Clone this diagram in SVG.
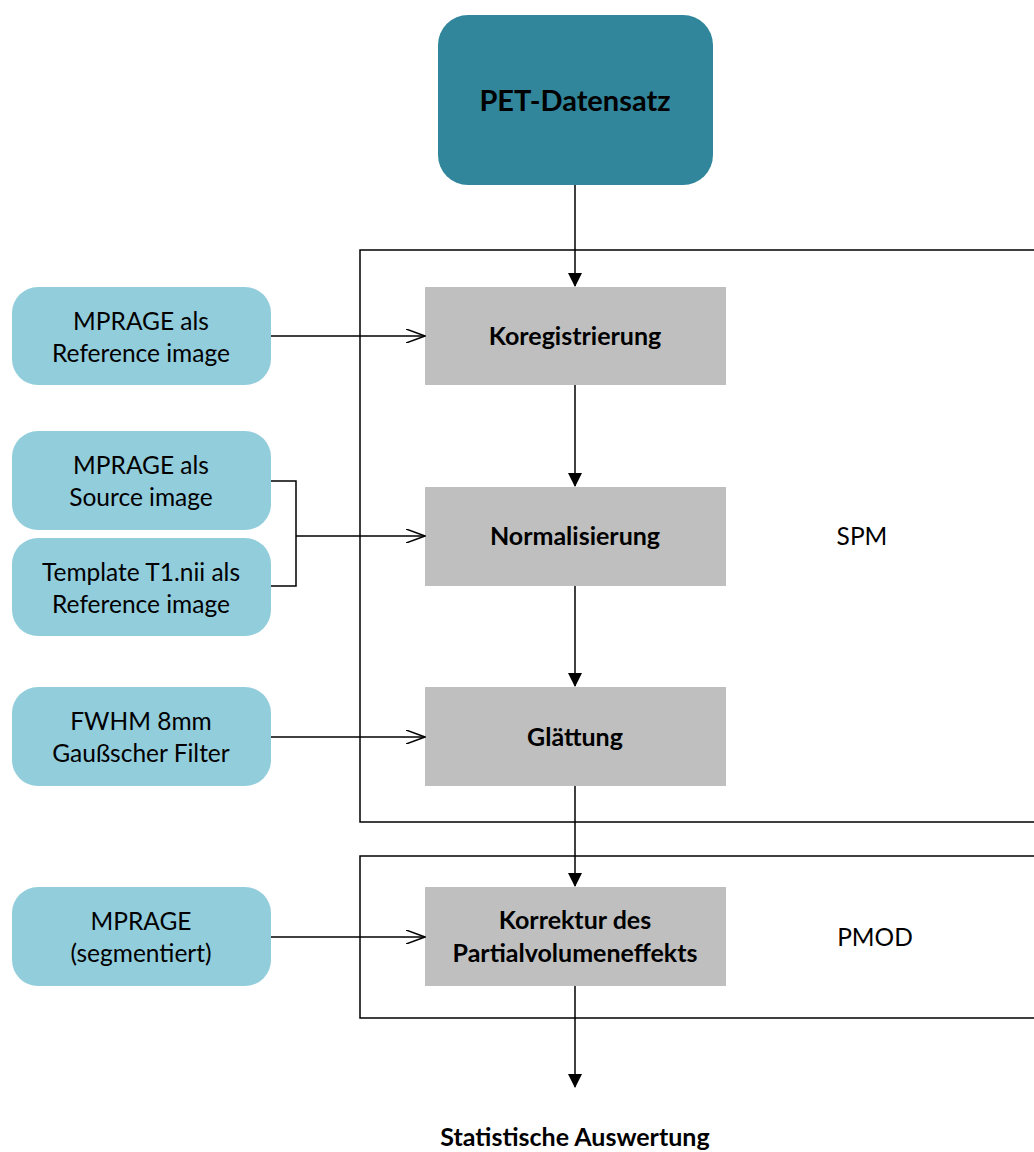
<svg xmlns="http://www.w3.org/2000/svg" width="1034" height="1152" viewBox="0 0 1034 1152">
<defs>
<style>
.in{fill:#92CDDC;}
.proc{fill:#BFBFBF;}
.frame{fill:none;stroke:#000;stroke-width:1.5;}
.t{font-family:Lato,"Liberation Sans",sans-serif;font-size:24.5px;fill:#000;text-anchor:middle;}
.b{font-weight:bold;font-size:25px;}
.c{fill:none;stroke:#000;stroke-width:1.5;}
</style>
<marker id="fa" markerWidth="14" markerHeight="14" refX="13" refY="7" orient="auto" markerUnits="userSpaceOnUse" viewBox="0 0 14 14">
<path d="M0,0 L14,7 L0,14 Z" fill="#000"/>
</marker>
<marker id="oa" markerWidth="20" markerHeight="14" refX="19" refY="7" orient="auto" markerUnits="userSpaceOnUse" viewBox="0 0 20 14">
<path d="M0,0 L19,7 L0,14" fill="none" stroke="#000" stroke-width="1.5"/>
</marker>
</defs>
<rect width="1034" height="1152" fill="#fff"/>
<g id="frame-spm">
<path class="frame" d="M1040,250 L360,250 L360,822 L1040,822"/>
<text class="t" x="862" y="545">SPM</text>
</g>
<g id="frame-pmod">
<path class="frame" d="M1040,856 L360,856 L360,1018 L1040,1018"/>
<text class="t" x="875" y="946">PMOD</text>
</g>
<g id="pet">
<rect x="438" y="15" width="275" height="170" rx="30" fill="#31869B"/>
<text class="t b" x="575" y="111" style="font-size:29px">PET-Datensatz</text>
</g>
<g id="koreg">
<rect class="proc" x="425" y="287" width="301" height="98"/>
<text class="t b" x="575" y="345">Koregistrierung</text>
</g>
<g id="norm">
<rect class="proc" x="425" y="487" width="301" height="99"/>
<text class="t b" x="575" y="545">Normalisierung</text>
</g>
<g id="glatt">
<rect class="proc" x="425" y="687" width="301" height="99"/>
<text class="t b" x="575" y="746">Glättung</text>
</g>
<g id="korr">
<rect class="proc" x="425" y="887" width="301" height="99"/>
<text class="t b" x="575" y="929">Korrektur des</text>
<text class="t b" x="575" y="962">Partialvolumeneffekts</text>
</g>
<g id="in1">
<rect class="in" x="12" y="287" width="259" height="98" rx="26"/>
<text class="t" x="141" y="330">MPRAGE als</text>
<text class="t" x="141" y="362">Reference image</text>
</g>
<g id="in2">
<rect class="in" x="12" y="431" width="259" height="99" rx="26"/>
<text class="t" x="141" y="474">MPRAGE als</text>
<text class="t" x="141" y="506">Source image</text>
</g>
<g id="in3">
<rect class="in" x="12" y="538" width="259" height="98" rx="26"/>
<text class="t" x="141" y="581">Template T1.nii als</text>
<text class="t" x="141" y="613">Reference image</text>
</g>
<g id="in4">
<rect class="in" x="12" y="687" width="259" height="99" rx="26"/>
<text class="t" x="141" y="730">FWHM 8mm</text>
<text class="t" x="141" y="762">Gaußscher Filter</text>
</g>
<g id="in5">
<rect class="in" x="12" y="887" width="259" height="99" rx="26"/>
<text class="t" x="141" y="930">MPRAGE</text>
<text class="t" x="141" y="962">(segmentiert)</text>
</g>
<g id="stat">
<text class="t b" x="575" y="1146">Statistische Auswertung</text>
</g>
<g id="connectors">
<line class="c" x1="575" y1="185" x2="575" y2="286" marker-end="url(#fa)"/>
<line class="c" x1="575" y1="385" x2="575" y2="486" marker-end="url(#fa)"/>
<line class="c" x1="575" y1="586" x2="575" y2="686" marker-end="url(#fa)"/>
<line class="c" x1="575" y1="786" x2="575" y2="886" marker-end="url(#fa)"/>
<line class="c" x1="575" y1="986" x2="575" y2="1087" marker-end="url(#fa)"/>
<line class="c" x1="271" y1="336" x2="425" y2="336" marker-end="url(#oa)"/>
<path class="c" d="M271,481 L296,481 L296,586 L271,586"/>
<line class="c" x1="296" y1="536" x2="425" y2="536" marker-end="url(#oa)"/>
<line class="c" x1="271" y1="737" x2="425" y2="737" marker-end="url(#oa)"/>
<line class="c" x1="271" y1="937" x2="425" y2="937" marker-end="url(#oa)"/>
</g>
</svg>
